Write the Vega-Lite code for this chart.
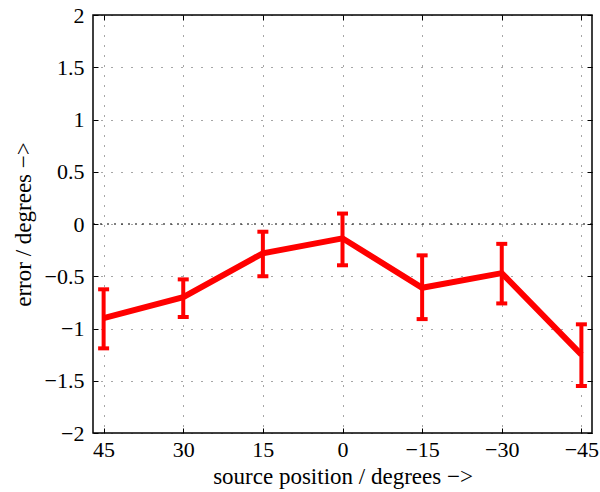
{
  "$schema": "https://vega.github.io/schema/vega-lite/v6.json",
  "width": 499,
  "height": 418,
  "autosize": "none",
  "padding": {"left": 93, "top": 15, "right": 8, "bottom": 59},
  "background": "white",
  "config": {
    "view": {"stroke": "black", "strokeWidth": 1.5},
    "font": "Liberation Serif",
    "axis": {
      "labelFont": "Liberation Serif",
      "titleFont": "Liberation Serif",
      "labelFontSize": 22,
      "titleFontSize": 23,
      "titleFontWeight": "normal",
      "labelColor": "black",
      "titleColor": "black",
      "domain": false,
      "tickColor": "black",
      "tickWidth": 1,
      "gridColor": "black",
      "gridOpacity": 0.7,
      "gridDash": [1, 9],
      "gridWidth": 1
    }
  },
  "datasets": {
    "err": [
      {"pos": 45, "err": -0.90, "lo": -1.19, "hi": -0.625},
      {"pos": 30, "err": -0.70, "lo": -0.89, "hi": -0.53},
      {"pos": 15, "err": -0.28, "lo": -0.50, "hi": -0.074},
      {"pos": 0, "err": -0.137, "lo": -0.395, "hi": 0.10},
      {"pos": -15, "err": -0.61, "lo": -0.91, "hi": -0.30},
      {"pos": -30, "err": -0.47, "lo": -0.76, "hi": -0.19},
      {"pos": -45, "err": -1.25, "lo": -1.55, "hi": -0.96}
    ],
    "zero": [{"v": 0}]
  },
  "resolve": {"axis": {"x": "independent", "y": "independent"}},
  "layer": [
    {
      "data": {"name": "err"},
      "mark": {"type": "point", "opacity": 0},
      "encoding": {
        "x": {
          "field": "pos", "type": "quantitative",
          "scale": {"domain": [-47, 47], "reverse": true, "nice": false, "zero": false},
          "axis": {
            "orient": "bottom",
            "values": [45, 30, 15, 0, -15, -30, -45],
            "format": "d",
            "title": "source position / degrees −>",
            "tickSize": -5,
            "labelPadding": 11,
            "titlePadding": 5,
            "grid": true
          }
        },
        "y": {
          "field": "err", "type": "quantitative",
          "scale": {"domain": [-2, 2], "nice": false, "zero": false},
          "axis": {
            "orient": "left",
            "values": [-2, -1.5, -1, -0.5, 0, 0.5, 1, 1.5, 2],
            "format": "~g",
            "title": "error / degrees −>",
            "tickSize": -5,
            "labelPadding": 14,
            "titlePadding": 9,
            "grid": true
          }
        }
      }
    },
    {
      "data": {"name": "err"},
      "mark": {"type": "point", "opacity": 0},
      "encoding": {
        "x": {
          "field": "pos", "type": "quantitative",
          "axis": {"orient": "top", "values": [45, 30, 15, 0, -15, -30, -45], "labels": false, "title": null, "tickSize": -5, "grid": false}
        },
        "y": {
          "field": "err", "type": "quantitative",
          "axis": {"orient": "right", "values": [-2, -1.5, -1, -0.5, 0, 0.5, 1, 1.5, 2], "labels": false, "title": null, "tickSize": -5, "grid": false}
        }
      }
    },
    {
      "data": {"name": "zero"},
      "mark": {"type": "rule", "color": "black", "strokeWidth": 1, "strokeDash": [2, 5]},
      "encoding": {
        "y": {"field": "v", "type": "quantitative", "axis": null}
      }
    },
    {
      "data": {"name": "err"},
      "mark": {"type": "line", "color": "#ff0000", "strokeWidth": 6, "strokeJoin": "miter"},
      "encoding": {
        "x": {"field": "pos", "type": "quantitative", "axis": null},
        "y": {"field": "err", "type": "quantitative", "axis": null}
      }
    },
    {
      "data": {"name": "err"},
      "mark": {"type": "errorbar", "color": "#ff0000", "rule": {"strokeWidth": 4, "opacity": 1}, "ticks": {"size": 11, "thickness": 4, "color": "#ff0000", "opacity": 1}},
      "encoding": {
        "x": {"field": "pos", "type": "quantitative", "axis": null},
        "y": {"field": "lo", "type": "quantitative", "axis": null},
        "y2": {"field": "hi"}
      }
    }
  ]
}
